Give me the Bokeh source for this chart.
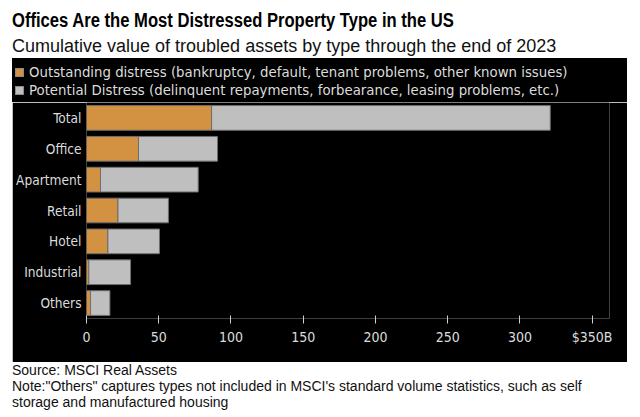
from bokeh.plotting import figure
from bokeh.models import ColumnDataSource, Div, FactorRange, Range1d, FixedTicker
from bokeh.layouts import column
from bokeh.embed import file_html
from bokeh.resources import INLINE

categories = ["Total", "Office", "Apartment", "Retail", "Hotel", "Industrial", "Others"]
outstanding = [86.6, 36.0, 9.7, 21.8, 14.8, 1.6, 2.8]
potential = [234.4, 54.7, 67.6, 34.9, 35.7, 28.9, 13.4]
series_labels = [
    "Outstanding distress (bankruptcy, default, tenant problems, other known issues)",
    "Potential Distress (delinquent repayments, forbearance, leasing problems, etc.)",
]
x_ticks = [0, 50, 100, 150, 200, 250, 300, 350]
x_tick_labels = ["0", "50", "100", "150", "200", "250", "300", "$350B"]

title_text = "Offices Are the Most Distressed Property Type in the US"
subtitle_text = "Cumulative value of troubled assets by type through the end of 2023"
source_text = "Source: MSCI Real Assets"
note_text = "Note:\"Others\" captures types not included in MSCI's standard volume statistics, such as self<br>storage and manufactured housing"

ORANGE = "#d39142"
GRAY = "#bfbfbf"
LABEL = "#dcdcdc"
FONT = "'DejaVu Sans Condensed', 'DejaVu Sans', sans-serif"
COLORS = [ORANGE, GRAY]

src = ColumnDataSource(dict(cat=categories, outstanding=outstanding, potential=potential))

p = figure(
    width=615, height=260,
    y_range=FactorRange(factors=list(reversed(categories)), range_padding=0),
    x_range=Range1d(0, 362),
    output_backend="svg", toolbar_location=None,
    background_fill_color="black", border_fill_color="black",
    outline_line_color=None,
    min_border_left=74, min_border_right=18, min_border_top=0, min_border_bottom=44,
)
p.margin = (0, 0, 0, 12)

p.hbar_stack(["outstanding", "potential"], y="cat", height=0.8, source=src,
             fill_color=COLORS, line_color="#6e6e6e", line_width=1)

p.xgrid.visible = False
p.ygrid.visible = False

xa = p.xaxis[0]
xa.ticker = FixedTicker(ticks=x_ticks)
xa.major_label_overrides = {t: l for t, l in zip(x_ticks, x_tick_labels)}
xa.axis_line_color = None
xa.major_tick_line_color = "#cfcfcf"
xa.major_tick_in = 3
xa.major_tick_out = 5
xa.minor_tick_line_color = None
xa.minor_tick_in = 0
xa.minor_tick_out = 0
xa.major_label_text_color = LABEL
xa.major_label_text_font = FONT
xa.major_label_text_font_size = "14px"
xa.major_label_standoff = 5

ya = p.yaxis[0]
ya.axis_line_color = None
ya.major_tick_line_color = None
ya.minor_tick_line_color = None
ya.major_tick_in = 0
ya.major_tick_out = 0
ya.minor_tick_in = 0
ya.minor_tick_out = 0
ya.major_label_text_color = LABEL
ya.major_label_text_font = FONT
ya.major_label_text_font_size = "13.6px"
ya.major_label_standoff = 5

legend_rows = "".join(
    f'<div style="display:flex;align-items:center;height:18px;white-space:nowrap;">'
    f'<span style="display:inline-block;width:9px;height:9px;background:{c};border:1px solid #8a8a8a;margin-right:5px;"></span>'
    f'<span>{lab}</span></div>'
    for lab, c in zip(series_labels, COLORS)
)
legend_div = Div(
    text=(
        f'<div style="width:612px;height:39px;background:#000;padding:5px 0 0 3px;'
        f'font-family:{FONT};font-size:14.8px;color:{LABEL};">{legend_rows}</div>'
    ),
    width=615, height=44, margin=(0, 0, 0, 12),
    styles={"background-color": "black"},
)

header = Div(
    text=(
        f'<div style="position:relative;width:640px;height:58px;font-family:\'Liberation Sans\',sans-serif;color:#000;">'
        f'<div style="position:absolute;left:12px;top:10px;font-size:20px;line-height:1;font-weight:bold;white-space:nowrap;'
        f'transform:scaleX(0.83);transform-origin:left top;">{title_text}</div>'
        f'<div style="position:absolute;left:12px;top:36.5px;font-size:18px;line-height:1;white-space:nowrap;color:#111;">{subtitle_text}</div>'
        f'</div>'
    ),
    width=640, height=58, margin=(0, 0, 0, 0),
)

footer = Div(
    text=(
        f'<div style="width:628px;padding-left:12px;font-family:\'Liberation Sans\',sans-serif;font-size:14px;line-height:16px;color:#111;white-space:nowrap;">'
        f'{source_text}<br>{note_text}</div>'
    ),
    width=640, height=55, margin=(0, 0, 0, 0),
)

layout = column(header, legend_div, p, footer, spacing=0)
open("out.html", "w").write(file_html(layout, INLINE))
